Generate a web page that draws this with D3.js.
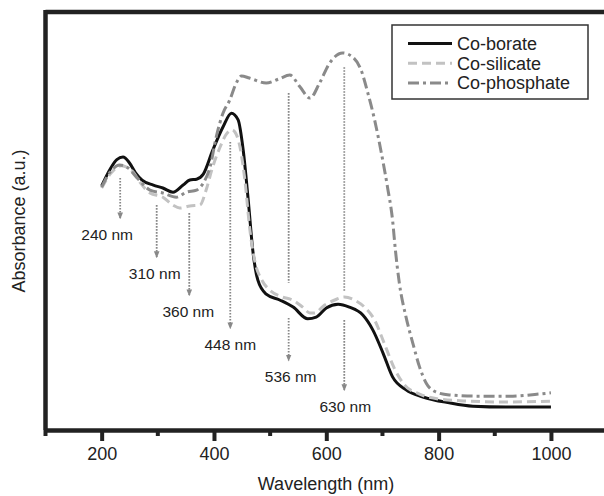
<!DOCTYPE html>
<html>
<head>
<meta charset="utf-8">
<script src="https://cdn.jsdelivr.net/npm/d3@7"></script>
<style>
  body { margin: 0; background: #fff; }
  text { font-family: "Liberation Sans", Arial, Helvetica, sans-serif; fill: #222; }
</style>
</head>
<body>
<svg id="chart" width="604" height="496"></svg>
<script>
// [wavelength (nm), absorbance (a.u.)]
const borate = [
  [200, 0.584], [215, 0.624], [227, 0.647], [238, 0.653], [249, 0.640], [260, 0.616],
  [272, 0.598], [292, 0.586], [309, 0.579], [327, 0.569], [345, 0.586], [357, 0.598],
  [369, 0.600], [381, 0.612], [398, 0.670], [416, 0.725], [431, 0.758], [443, 0.742],
  [452, 0.670], [461, 0.550], [469, 0.431], [478, 0.359], [493, 0.325], [517, 0.311],
  [541, 0.294], [567, 0.266], [582, 0.270], [600, 0.292], [621, 0.301], [641, 0.294],
  [665, 0.275], [683, 0.239], [701, 0.184], [718, 0.127], [742, 0.096], [772, 0.079],
  [819, 0.065], [861, 0.057], [920, 0.055], [1000, 0.055]
];
const silicate = [
  [200, 0.579], [215, 0.612], [235, 0.632], [256, 0.617], [268, 0.593], [286, 0.567],
  [309, 0.557], [327, 0.538], [339, 0.531], [357, 0.536], [375, 0.538], [386, 0.574],
  [396, 0.622], [410, 0.674], [422, 0.708], [432, 0.718], [441, 0.703], [448, 0.665],
  [455, 0.598], [464, 0.478], [473, 0.402], [485, 0.359], [499, 0.335], [522, 0.318],
  [540, 0.311], [558, 0.294], [571, 0.280], [579, 0.280], [597, 0.299], [615, 0.311],
  [632, 0.318], [650, 0.311], [668, 0.294], [686, 0.263], [703, 0.208], [721, 0.148],
  [739, 0.108], [766, 0.086], [801, 0.074], [855, 0.069], [908, 0.067], [1000, 0.069]
];
const phosphate = [
  [200, 0.581], [215, 0.617], [232, 0.634], [247, 0.627], [262, 0.605], [286, 0.574],
  [309, 0.567], [333, 0.557], [351, 0.569], [369, 0.574], [381, 0.591], [393, 0.629],
  [404, 0.701], [416, 0.758], [428, 0.789], [439, 0.828], [449, 0.847], [463, 0.842],
  [493, 0.830], [516, 0.840], [535, 0.849], [553, 0.821], [571, 0.794], [588, 0.830],
  [606, 0.878], [629, 0.902], [647, 0.892], [662, 0.861], [674, 0.806], [686, 0.742],
  [698, 0.663], [709, 0.581], [718, 0.502], [723, 0.431], [730, 0.352], [742, 0.270],
  [754, 0.208], [766, 0.151], [778, 0.112], [795, 0.091], [819, 0.084], [872, 0.081],
  [926, 0.081], [979, 0.086], [1000, 0.089]
];

const seriesNames = ['Co-borate', 'Co-silicate', 'Co-phosphate'];

// band annotations: label, wavelength where the arrow is drawn, absorbance spans of its segments
const bandLabels = ['240 nm', '310 nm', '360 nm', '448 nm', '536 nm', '630 nm'];
const bandArrowAt = [233, 298, 356, 429, 533, 632];
const bandSegments = [
  [[0.603, 0.507]],
  [[0.538, 0.414]],
  [[0.519, 0.323]],
  [[0.689, 0.244]],
  [[0.806, 0.352], [0.268, 0.167]],
  [[0.868, 0.330], [0.263, 0.096]]
];

const majorTicks = [200, 400, 600, 800, 1000];
const minorTicks = [100, 300, 500, 700, 900, 1100];

const svg = d3.select('#chart');
const x = d3.scaleLinear().domain([100, 1100]).range([45.5, 607.1]);
const y = d3.scaleLinear().domain([0, 1]).range([430, 12]);

const styles = [
  { color: '#111', dash: null },
  { color: '#c2c2c2', dash: '9,5' },
  { color: '#8a8a8a', dash: '11,4,3,4' }
];

// arrowhead
svg.append('defs').append('marker')
  .attr('id', 'arrow')
  .attr('viewBox', '0 -5 10 10')
  .attr('refX', 8)
  .attr('refY', 0)
  .attr('markerUnits', 'userSpaceOnUse')
  .attr('markerWidth', 7)
  .attr('markerHeight', 7)
  .attr('orient', 'auto')
  .append('path')
  .attr('d', 'M0,-4L10,0L0,4Z')
  .attr('fill', '#888');

// frame: top border and left axis
svg.append('line')
  .attr('x1', x(100)).attr('x2', 604)
  .attr('y1', y(1)).attr('y2', y(1))
  .attr('stroke', '#222').attr('stroke-width', 4.5);
svg.append('line')
  .attr('x1', x(100)).attr('x2', x(100))
  .attr('y1', y(1) - 2).attr('y2', y(0))
  .attr('stroke', '#222').attr('stroke-width', 4.5);

// x axis
const xAxis = svg.append('g')
  .attr('transform', `translate(0,${y(0)})`)
  .call(d3.axisBottom(x).tickValues(majorTicks).tickFormat(d3.format('d'))
    .tickSize(11).tickSizeOuter(0).tickPadding(6));
xAxis.select('.domain').attr('stroke', '#222').attr('stroke-width', 4.5);
xAxis.selectAll('.tick line').attr('stroke', '#222').attr('stroke-width', 4);
xAxis.selectAll('.tick text').attr('font-size', 18).attr('fill', '#222')
  .attr('font-family', '"Liberation Sans", Arial, sans-serif');
svg.append('g')
  .selectAll('line')
  .data(minorTicks)
  .enter().append('line')
  .attr('x1', d => x(d)).attr('x2', d => x(d))
  .attr('y1', y(0)).attr('y2', y(0) + 6)
  .attr('stroke', '#222').attr('stroke-width', 4);

// axis titles
svg.append('text')
  .attr('x', 326).attr('y', 490)
  .attr('text-anchor', 'middle')
  .attr('font-size', 18)
  .text('Wavelength (nm)');
svg.append('text')
  .attr('transform', 'translate(25,221) rotate(-90)')
  .attr('text-anchor', 'middle')
  .attr('font-size', 18)
  .text('Absorbance (a.u.)');

// band arrows
const labelDx = [-13, -2, -1, 0, 2, 1];
const bands = svg.append('g');
bandLabels.forEach((lab, i) => {
  const bx = x(bandArrowAt[i]);
  bandSegments[i].forEach((seg, j) => {
    const last = j === bandSegments[i].length - 1;
    bands.append('line')
      .attr('x1', bx).attr('x2', bx)
      .attr('y1', y(seg[0])).attr('y2', y(seg[1]))
      .attr('stroke', '#888')
      .attr('stroke-width', 1.8)
      .attr('stroke-dasharray', '1.6,1.4')
      .attr('marker-end', last ? 'url(#arrow)' : null);
  });
  const segs = bandSegments[i];
  bands.append('text')
    .attr('x', bx + labelDx[i])
    .attr('y', y(segs[segs.length - 1][1]) + 22)
    .attr('text-anchor', 'middle')
    .attr('font-size', 15.5)
    .text(lab);
});

// spectra
const line = d3.line()
  .x(d => x(d[0]))
  .y(d => y(d[1]))
  .curve(d3.curveMonotoneX);

[borate, silicate, phosphate].forEach((data, i) => {
  svg.append('path')
    .datum(data)
    .attr('fill', 'none')
    .attr('stroke', styles[i].color)
    .attr('stroke-width', 3)
    .attr('stroke-dasharray', styles[i].dash)
    .attr('d', line);
});

// legend
const legend = svg.append('g');
legend.append('rect')
  .attr('x', 392).attr('y', 25)
  .attr('width', 196).attr('height', 74)
  .attr('fill', '#fff')
  .attr('stroke', '#333')
  .attr('stroke-width', 1.5);
seriesNames.forEach((name, i) => {
  const ly = 43.5 + i * 19.7;
  legend.append('line')
    .attr('x1', 408).attr('x2', 452)
    .attr('y1', ly).attr('y2', ly)
    .attr('stroke', styles[i].color)
    .attr('stroke-width', 3)
    .attr('stroke-dasharray', styles[i].dash);
  legend.append('text')
    .attr('x', 457).attr('y', ly)
    .attr('dy', '0.35em')
    .attr('font-size', 18)
    .text(name);
});
</script>
</body>
</html>
